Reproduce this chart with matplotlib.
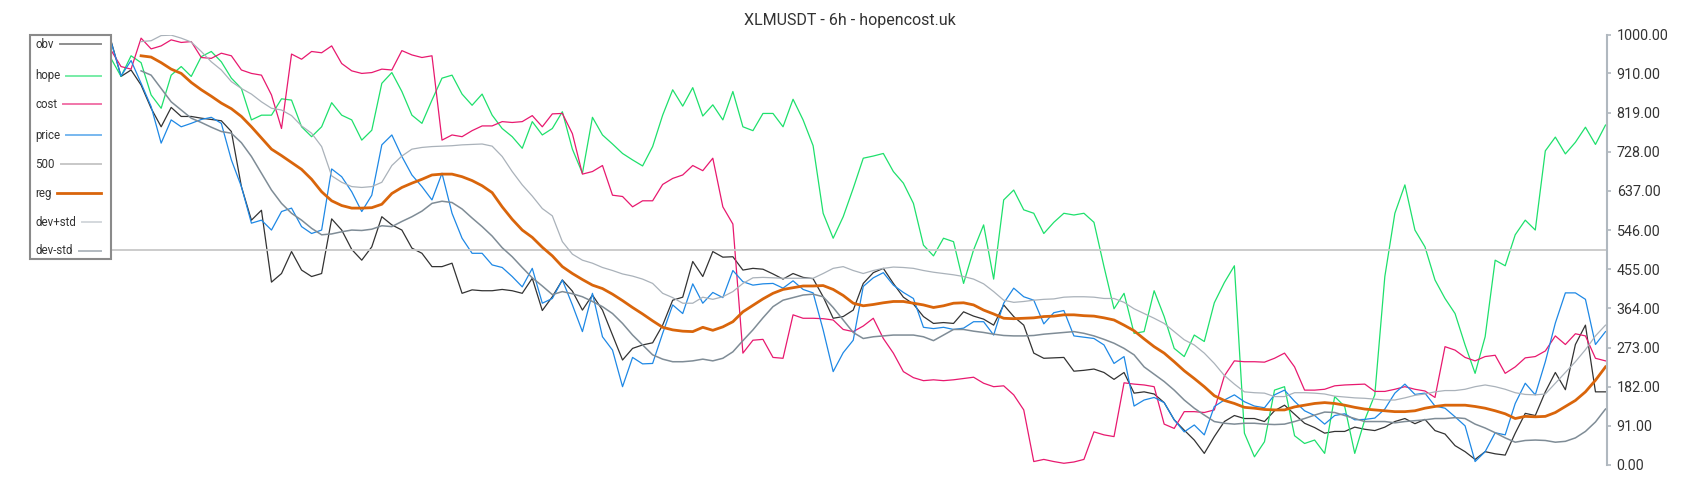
import matplotlib
matplotlib.use("Agg")
import matplotlib.pyplot as plt
from matplotlib.lines import Line2D
from matplotlib.patches import Rectangle
import numpy as np

plt.rcParams['font.family'] = ['Roboto', 'DejaVu Sans']

TITLE = "XLMUSDT - 6h - hopencost.uk"
REG_START = 3  # reg and the std bands start a few candles later

obv = [
    986, 903, 918, 883, 829, 786, 831, 810, 810, 806,
    803, 800, 775, 647, 569, 592, 425, 445, 496, 453,
    438, 445, 572, 546, 501, 476, 507, 577, 558, 546,
    504, 492, 461, 461, 469, 399, 407, 405, 405, 408,
    405, 399, 434, 359, 391, 430, 404, 360, 395, 360,
    302, 244, 271, 279, 284, 325, 383, 390, 473, 438,
    496, 483, 484, 453, 457, 455, 444, 432, 445, 436,
    433, 391, 341, 345, 360, 422, 447, 457, 422, 390,
    374, 345, 329, 331, 329, 356, 346, 339, 325, 372,
    345, 325, 260, 248, 249, 250, 218, 220, 223, 215,
    199, 215, 167, 170, 165, 145, 105, 81, 58, 27,
    66, 101, 115, 108, 108, 101, 126, 139, 118, 97,
    87, 74, 78, 78, 88, 83, 80, 88, 101, 108,
    96, 106, 80, 72, 45, 31, 13, 31, 26, 23,
    74, 120, 115, 170, 215, 175, 280, 325, 170, 170,
]

hope = [
    945, 903, 951, 935, 860, 829, 906, 926, 903, 949,
    961, 937, 899, 875, 802, 813, 813, 851, 848, 786,
    763, 786, 842, 813, 802, 755, 778, 887, 912, 868,
    813, 794, 848, 899, 906, 862, 836, 862, 813, 782,
    763, 736, 798, 767, 782, 821, 734, 678, 808, 767,
    746, 724, 709, 695, 740, 813, 872, 834, 877, 811,
    837, 802, 868, 786, 777, 817, 817, 786, 850, 802,
    742, 585, 527, 577, 643, 713, 718, 724, 682, 655,
    608, 511, 486, 527, 519, 422, 500, 558, 432, 616,
    639, 593, 585, 538, 564, 585, 581, 585, 564, 461,
    363, 399, 306, 310, 405, 345, 271, 252, 302, 287,
    377, 424, 463, 74, 19, 54, 174, 182, 68, 50,
    58, 27, 159, 136, 27, 105, 163, 438, 585, 651,
    546, 507, 430, 387, 352, 279, 213, 298, 476, 463,
    535, 569, 546, 730, 762, 723, 750, 785, 745, 790,
]

cost = [
    964, 926, 920, 992, 967, 974, 988, 982, 984, 947,
    945, 957, 951, 918, 910, 906, 860, 782, 955, 943,
    961, 958, 974, 933, 916, 910, 912, 920, 918, 963,
    953, 947, 951, 755, 767, 763, 777, 788, 788, 798,
    796, 798, 812, 786, 816, 817, 770, 676, 682, 696,
    627, 624, 600, 614, 614, 652, 666, 674, 696, 684,
    713, 600, 560, 260, 290, 292, 250, 248, 349, 341,
    341, 340, 337, 315, 310, 323, 341, 294, 260, 217,
    203, 196, 198, 196, 198, 201, 204, 190, 182, 184,
    163, 128, 8, 13, 8, 4, 7, 13, 77, 70,
    66, 191, 188, 186, 182, 95, 85, 124, 124, 122,
    128, 207, 242, 240, 240, 239, 248, 260, 228, 174,
    174, 176, 184, 186, 187, 188, 171, 171, 176, 182,
    176, 172, 157, 275, 267, 250, 242, 252, 255, 213,
    228, 249, 252, 265, 300, 280, 305, 300, 248, 242,
]

price = [
    984, 904, 940, 887, 833, 748, 802, 786, 794, 803,
    808, 794, 709, 647, 562, 569, 546, 589, 597, 554,
    538, 546, 688, 670, 635, 589, 627, 744, 767, 717,
    674, 647, 616, 678, 585, 527, 492, 492, 465, 459,
    438, 414, 457, 376, 387, 430, 372, 310, 399, 298,
    267, 182, 250, 235, 236, 306, 372, 352, 421, 376,
    401, 389, 452, 426, 418, 421, 422, 411, 428, 408,
    400, 314, 217, 261, 290, 415, 435, 447, 418, 401,
    387, 320, 317, 320, 315, 318, 333, 333, 302, 376,
    411, 391, 383, 328, 354, 359, 300, 297, 294, 279,
    236, 252, 137, 151, 157, 145, 105, 77, 93, 70,
    136, 151, 163, 147, 137, 133, 163, 174, 148, 126,
    115, 95, 115, 119, 105, 106, 109, 130, 167, 188,
    164, 167, 137, 132, 112, 91, 8, 31, 75, 70,
    143, 190, 163, 240, 330, 400, 400, 385, 280, 310,
]

level_500 = 500

reg = [
    951, 948, 935, 920, 910, 889, 872,
    857, 841, 828, 810, 786, 760, 734, 719, 703, 687,
    664, 635, 614, 603, 597, 597, 598, 606, 631, 645,
    655, 664, 674, 676, 676, 670, 661, 649, 633, 600,
    571, 546, 529, 506, 486, 461, 445, 431, 418, 410,
    397, 382, 366, 351, 335, 320, 314, 311, 310, 320,
    313, 321, 333, 356, 371, 386, 399, 408, 412, 416,
    416, 417, 408, 394, 376, 370, 373, 377, 380, 380,
    376, 372, 366, 370, 376, 377, 372, 360, 351, 341,
    340, 341, 342, 345, 346, 349, 349, 347, 346, 342,
    337, 325, 312, 293, 275, 260, 240, 219, 201, 182,
    161, 150, 143, 134, 132, 129, 128, 128, 135, 139,
    143, 145, 143, 139, 134, 130, 128, 126, 124, 124,
    126, 132, 136, 139, 139, 139, 136, 132, 126, 119,
    108, 113, 112, 113, 122, 136, 150, 170, 197, 228,
]

dev_plus_std = [
    984, 986, 998, 999, 992, 983, 961,
    937, 918, 891, 875, 862, 844, 829, 825, 812, 788,
    771, 740, 672, 657, 647, 645, 647, 657, 696, 718,
    734, 738, 740, 741, 742, 744, 745, 746, 741, 717,
    682, 651, 625, 596, 579, 519, 490, 476, 469, 459,
    452, 444, 439, 432, 422, 399, 389, 376, 376, 390,
    385, 391, 403, 422, 435, 436, 435, 434, 434, 434,
    434, 445, 457, 461, 452, 445, 452, 457, 460, 459,
    457, 452, 448, 445, 442, 438, 432, 421, 403, 383,
    378, 380, 383, 385, 386, 390, 391, 391, 390, 387,
    387, 378, 363, 352, 341, 329, 310, 291, 279, 260,
    236, 208, 188, 170, 168, 167, 159, 159, 168, 168,
    167, 165, 160, 158, 156, 155, 153, 151, 151, 156,
    162, 165, 170, 173, 173, 176, 182, 186, 182, 176,
    168, 164, 163, 165, 190, 215, 240, 268, 300, 325,
]

dev_minus_std = [
    916, 906, 875, 844, 825, 806, 796,
    785, 775, 771, 749, 717, 678, 639, 608, 585, 569,
    550, 535, 537, 542, 546, 545, 548, 556, 554, 566,
    577, 590, 608, 613, 610, 595, 574, 554, 532, 505,
    484, 459, 435, 416, 396, 403, 398, 391, 380, 368,
    352, 329, 302, 279, 256, 246, 240, 240, 242, 246,
    242, 248, 263, 289, 314, 342, 368, 383, 389, 395,
    397, 391, 366, 337, 308, 294, 298, 300, 302, 302,
    302, 298, 289, 302, 315, 315, 311, 308, 304, 301,
    300, 300, 301, 304, 306, 308, 310, 306, 300, 292,
    283, 271, 256, 228, 211, 194, 174, 151, 132, 116,
    101, 97, 95, 97, 97, 95, 94, 95, 101, 108,
    116, 123, 122, 115, 108, 101, 101, 101, 98, 101,
    103, 105, 108, 108, 110, 108, 95, 86, 75, 63,
    53, 57, 58, 57, 53, 55, 63, 78, 100, 130,
]

y_ticks = [0, 91, 182, 273, 364, 455, 546, 637, 728, 819, 910, 1000]
legend_labels = ["obv", "hope", "cost", "price", "500", "reg", "dev+std", "dev-std"]

C_OBV = '#333333'
C_HOPE = '#1ee06c'
C_COST = '#e8196f'
C_PRICE = '#1e88e5'
C_500 = '#c8c8c8'
C_REG = '#d9650b'
C_DEVP = '#aab2ba'
C_DEVM = '#7f8c96'

W, H = 1700, 500
fig = plt.figure(figsize=(W / 100, H / 100), dpi=100)
ax = fig.add_axes([111 / W, 1 - 465 / H, (1607 - 111) / W, (465 - 34.7) / H])

t = np.arange(len(price))
t_reg = np.arange(REG_START, REG_START + len(reg))

ax.plot(t, obv, color=C_OBV, lw=0.9)
ax.plot(t, hope, color=C_HOPE, lw=0.9)
ax.plot(t, cost, color=C_COST, lw=0.9)
ax.plot(t, price, color=C_PRICE, lw=0.9)
ax.axhline(level_500, color=C_500, lw=1.3)
ax.plot(t_reg, reg, color=C_REG, lw=2.0)
ax.plot(t_reg, dev_plus_std, color=C_DEVP, lw=0.9)
ax.plot(t_reg, dev_minus_std, color=C_DEVM, lw=1.1)

ax.set_xlim(0, len(price) - 1 + 0.15)
ax.set_ylim(0, 1000)
ax.set_xticks([])
ax.yaxis.tick_right()
ax.set_yticks(y_ticks)
ax.set_yticklabels([f"{v:.2f}" for v in y_ticks])
ax.tick_params(axis='y', color='#b0b8bf', labelcolor='#333333', labelsize=10.3,
               length=3, width=1.2, pad=4)
for s in ['left', 'top', 'bottom']:
    ax.spines[s].set_visible(False)
ax.spines['right'].set_color('#b0b8bf')
ax.spines['right'].set_linewidth(1.5)

fig.text(850 / W, 1 - 20.7 / H, TITLE, ha='center', va='center',
         fontsize=11.5, color='#333333')

# legend drawn by hand: label first, short line ending at a fixed x
box = Rectangle((30 / W, 1 - 259 / H), (111 - 30) / W, (259 - 34.7) / H,
                transform=fig.transFigure, facecolor='white',
                edgecolor='#8a8a8a', lw=1.5)
fig.add_artist(box)
handle_style = [
    (C_OBV, 0.55, 1.4), (C_HOPE, 0.6, 1.4), (C_COST, 0.6, 1.4),
    (C_PRICE, 0.6, 1.4), (C_500, 1.0, 1.4), (C_REG, 1.0, 2.0),
    (C_DEVP, 0.5, 1.4), (C_DEVM, 0.6, 1.4),
]
legend_y = [44, 76, 104, 135, 164, 193, 222, 251]
renderer = fig.canvas.get_renderer()
for label, (col, alpha, lw), y in zip(legend_labels, handle_style, legend_y):
    txt = fig.text(35 / W, 1 - y / H, label, ha='left', va='center',
                   fontsize=8.3, color='#333333')
    x1 = txt.get_window_extent(renderer).x1
    fig.add_artist(Line2D([(x1 + 6) / W, 101 / W], [1 - y / H, 1 - y / H],
                          transform=fig.transFigure, color=col, alpha=alpha, lw=lw))

fig.savefig("out.png", dpi=100)
